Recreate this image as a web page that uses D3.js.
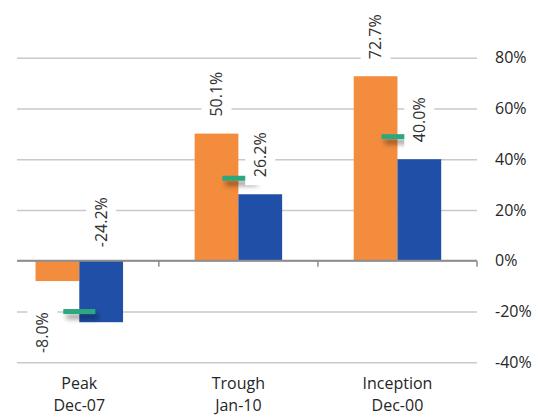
<!DOCTYPE html>
<html>
<head>
<meta charset="utf-8">
<script src="https://cdn.jsdelivr.net/npm/d3@7"></script>
<style>
  html, body { margin: 0; padding: 0; background: #fff; }
  svg { display: block; font-family: "Open Sans", "Noto Sans", sans-serif; }
</style>
</head>
<body>
<svg id="chart" width="550" height="417"></svg>
<script>
// Return figures per period
const categories = ["Peak", "Trough", "Inception"];
const periods = ["Dec-07", "Jan-10", "Dec-00"];
const orangeValues = [-8.0, 50.1, 72.7];
const blueValues = [-24.2, 26.2, 40.0];
const markerValues = [-20.0, 32.5, 48.9];
const yTicks = [-40, -20, 0, 20, 40, 60, 80];

const svg = d3.select("#chart");
const W = 550, H = 417;
svg.append("rect").attr("width", W).attr("height", H).attr("fill", "#fff");

const plotLeft = -0.25, plotRight = 477, gridLeft = 17;
const y = d3.scaleLinear().domain([-40, 80]).range([362.3, 57.7]);
const x0 = d3.scaleBand().domain(categories).range([plotLeft, plotRight]).padding(0);
const groupW = x0.bandwidth() * 0.55;
const x1 = d3.scaleBand().domain(["orange", "blue"])
  .range([(x0.bandwidth() - groupW) / 2, (x0.bandwidth() + groupW) / 2]).padding(0);

const colors = { orange: "#F38C3D", blue: "#1F4FA7" };
const textColor = "#262626";

// Soft drop shadow for the marker dashes
const defs = svg.append("defs");
const f = defs.append("filter").attr("id", "mshadow")
  .attr("x", "-50%").attr("y", "-300%").attr("width", "200%").attr("height", "700%");
f.append("feDropShadow").attr("dx", 3).attr("dy", 5).attr("stdDeviation", 2.5)
  .attr("flood-color", "#000").attr("flood-opacity", 0.4);

// Gridlines and right-hand axis
const yAxis = d3.axisRight(y).tickValues(yTicks)
  .tickSizeInner(-(plotRight - gridLeft)).tickSizeOuter(0).tickPadding(18)
  .tickFormat(d => d + "%");
const gAxis = svg.append("g").attr("transform", `translate(${plotRight},0)`).call(yAxis);
gAxis.select(".domain").remove();
gAxis.selectAll(".tick line").attr("stroke", "#c9c9c9").attr("stroke-width", 1.6);
gAxis.selectAll(".tick text").attr("fill", textColor).attr("font-size", 16)
  .attr("font-family", "\"Open Sans\", sans-serif");

// Bars
const rows = categories.map((c, i) => ({ cat: c, orange: orangeValues[i], blue: blueValues[i], marker: markerValues[i] }));
const groups = svg.append("g").selectAll("g").data(rows).join("g")
  .attr("transform", d => `translate(${x0(d.cat)},0)`);
groups.selectAll("rect").data(d => ["orange", "blue"].map(k => ({ key: k, v: d[k] })))
  .join("rect")
  .attr("x", d => x1(d.key))
  .attr("width", x1.bandwidth())
  .attr("y", d => y(Math.max(0, d.v)))
  .attr("height", d => Math.abs(y(d.v) - y(0)))
  .attr("fill", d => colors[d.key]);

// Zero line with category boundary ticks
svg.append("line").attr("x1", gridLeft).attr("x2", plotRight)
  .attr("y1", y(0)).attr("y2", y(0)).attr("stroke", "#8e8e8e").attr("stroke-width", 1.8);
svg.append("g").selectAll("line").data(categories).join("line")
  .attr("x1", d => x0(d) + x0.step()).attr("x2", d => x0(d) + x0.step())
  .attr("y1", y(0)).attr("y2", y(0) + 6)
  .attr("stroke", "#8e8e8e").attr("stroke-width", 1.5);

// Marker dashes
svg.append("g").selectAll("rect").data(rows).join("rect")
  .attr("x", d => x0(d.cat) + x0.bandwidth() / 2 - 16)
  .attr("width", 32)
  .attr("y", d => y(d.marker) - 2.5)
  .attr("height", 5)
  .attr("fill", "#2DA67F")
  .attr("filter", "url(#mshadow)");

// Value labels: [dx, dy] offsets from the bar end
const labelOffsets = {
  orange: [[-15, 72], [0, -17], [0, -17]],
  blue: [[0, -75], [0, -17], [0, -17]]
};
const labels = [];
rows.forEach((d, i) => {
  ["orange", "blue"].forEach(k => {
    const off = labelOffsets[k][i];
    labels.push({
      x: x0(d.cat) + x1(k) + x1.bandwidth() / 2 + off[0],
      y: y(d[k]) + off[1],
      text: d[k].toFixed(1) + "%"
    });
  });
});
const lg = svg.append("g").selectAll("g").data(labels).join("g")
  .attr("transform", d => `translate(${d.x},${d.y}) rotate(-90)`);
lg.append("text")
  .attr("x", 0).attr("y", 0).attr("dy", "0.36em")
  .attr("text-anchor", "start")
  .attr("font-size", 16).attr("fill", "#303030")
  .text(d => d.text);
lg.each(function () {
  const g = d3.select(this);
  const len = g.select("text").node().getComputedTextLength();
  g.insert("rect", "text")
    .attr("x", -8).attr("y", -15)
    .attr("width", len + 16).attr("height", 30)
    .attr("fill", "#fff");
});

// Category labels
const cl = svg.append("g").selectAll("text").data(categories).join("text")
  .attr("x", d => x0(d) + x0.bandwidth() / 2)
  .attr("text-anchor", "middle")
  .attr("font-size", 16).attr("fill", textColor);
cl.append("tspan").attr("x", d => x0(d) + x0.bandwidth() / 2).attr("y", 383).attr("dy", "0.36em").text(d => d);
cl.append("tspan").attr("x", d => x0(d) + x0.bandwidth() / 2).attr("y", 405).attr("dy", "0.36em")
  .text((d, i) => periods[i]);
</script>
</body>
</html>
